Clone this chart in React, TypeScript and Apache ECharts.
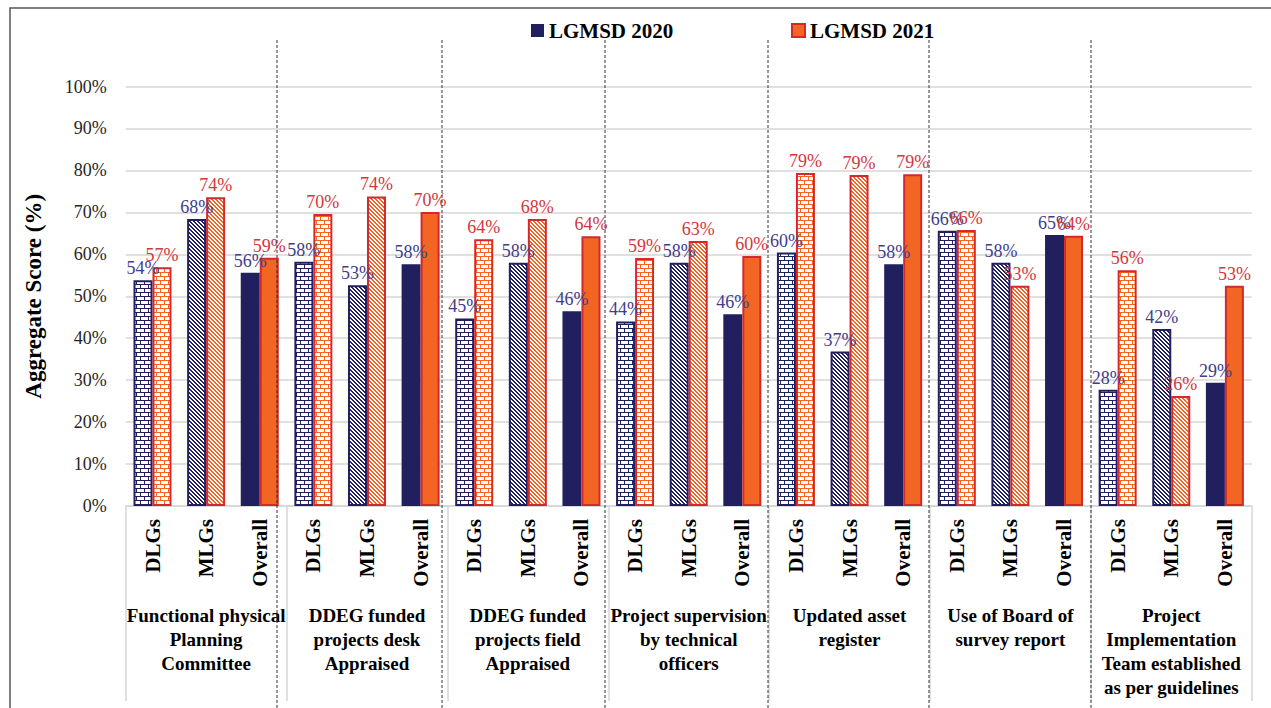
import React, { useEffect, useRef } from "react";
import * as echarts from "echarts";

const groups = [
  "Functional physical\nPlanning\nCommittee",
  "DDEG funded\nprojects desk\nAppraised",
  "DDEG funded\nprojects field\nAppraised",
  "Project supervision\nby technical\nofficers",
  "Updated asset\nregister",
  "Use of Board of\nsurvey report",
  "Project\nImplementation\nTeam established\nas per guidelines",
];
const subCategories = ["DLGs", "MLGs", "Overall"];
const lgmsd2020 = [
  53.8, 68.4, 55.6, 58.2, 52.6, 57.6, 44.7, 58.0, 46.4, 44.0, 58.0, 45.7,
  60.4, 36.8, 57.6, 65.6, 58.0, 64.6, 27.7, 42.2, 29.4,
];
const lgmsd2021 = [
  56.9, 73.6, 59.2, 69.6, 73.8, 70.1, 63.6, 68.4, 64.3, 59.1, 63.2, 59.6,
  79.4, 78.9, 79.1, 65.8, 52.5, 64.4, 56.2, 26.2, 52.5,
];
const seriesNames = ["LGMSD 2020", "LGMSD 2021"];

const FONT = "'Liberation Serif', 'DejaVu Serif', serif";
const NAVY = "#221f5e";
const ORANGE = "#f26522";
const RED = "#d22a2c";
const NAVY_LABEL = "#3f3d8c";
const RED_LABEL = "#d3363b";

function makePattern(kind: "brick" | "stripe", fg: string, bg: string) {
  const w = kind === "brick" ? 8 : 4;
  const h = kind === "brick" ? 8 : 4;
  const c = document.createElement("canvas");
  c.width = w;
  c.height = h;
  const ctx = c.getContext("2d")!;
  ctx.fillStyle = bg;
  ctx.fillRect(0, 0, w, h);
  ctx.fillStyle = fg;
  for (let y = 0; y < h; y++) {
    for (let x = 0; x < w; x++) {
      let on = false;
      if (kind === "brick") {
        if (y % 4 === 0) on = true;
        else if (y < 4 && x === 0) on = true;
        else if (y >= 4 && x === 4) on = true;
      } else {
        on = (((x - y) % 4) + 4) % 4 < 2;
      }
      if (on) ctx.fillRect(x, y, 1, 1);
    }
  }
  return { image: c, repeat: "repeat", imageWidth: w, imageHeight: h } as any;
}

export default function App() {
  const ref = useRef<HTMLDivElement>(null);
  useEffect(() => {
    if (!ref.current) return;
    const chart = echarts.init(ref.current, null, { renderer: "svg" });
    const navyBrick = makePattern("brick", NAVY, "#ffffff");
    const navyStripe = makePattern("stripe", NAVY, "#ffffff");
    const orangeBrick = makePattern("brick", ORANGE, "#ffffff");
    const orangeStripe = makePattern("stripe", ORANGE, "#ffffff");

    const categories: string[] = [];
    groups.forEach(() => subCategories.forEach((s) => categories.push(s)));

    const data2020 = lgmsd2020.map((v, i) => {
      const k = i % 3;
      return {
        value: v,
        itemStyle:
          k === 0
            ? { color: navyBrick, borderColor: NAVY, borderWidth: 2 }
            : k === 1
            ? { color: navyStripe, borderColor: NAVY, borderWidth: 2 }
            : { color: NAVY, borderColor: NAVY, borderWidth: 0 },
      };
    });
    const data2021 = lgmsd2021.map((v, i) => {
      const k = i % 3;
      return {
        value: v,
        itemStyle:
          k === 0
            ? { color: orangeBrick, borderColor: RED, borderWidth: 2 }
            : k === 1
            ? { color: orangeStripe, borderColor: RED, borderWidth: 2 }
            : { color: ORANGE, borderColor: RED, borderWidth: 2 },
      };
    });

    const dashX = [277, 442, 605, 768, 929, 1091];

    const legendCommon = {
      top: 15,
      itemWidth: 13,
      itemHeight: 13,
      icon: "rect",
      selectedMode: false,
      textStyle: { fontFamily: FONT, fontSize: 21, fontWeight: "bold", color: "#000" },
    };

    const labelCommon = {
      show: true,
      position: "top",
      distance: 3,
      formatter: (p: any) => Math.round(p.value) + "%",
      fontFamily: FONT,
      fontSize: 18,
    };

    chart.setOption({
      animation: false,
      backgroundColor: "#ffffff",
      legend: [
        {
          ...legendCommon,
          left: 526,
          data: [{ name: seriesNames[0], itemStyle: { color: NAVY, borderWidth: 0 } }],
        },
        {
          ...legendCommon,
          left: 786,
          data: [
            {
              name: seriesNames[1],
              itemStyle: { color: ORANGE, borderColor: RED, borderWidth: 2 },
            },
          ],
        },
      ],
      grid: { left: 125.7, right: 19.3, top: 86.5, bottom: 202, containLabel: false },
      yAxis: {
        type: "value",
        min: 0,
        max: 100,
        interval: 10,
        name: "Aggregate Score (%)",
        nameLocation: "middle",
        nameGap: 81,
        nameRotate: 90,
        nameTextStyle: { fontFamily: FONT, fontSize: 23, fontWeight: "bold", color: "#000" },
        axisLine: { show: false },
        axisTick: { show: false },
        axisLabel: {
          formatter: "{value}%",
          fontFamily: FONT,
          fontSize: 18,
          color: "#262626",
          margin: 19,
        },
        splitLine: { lineStyle: { color: "#d6d6d6", width: 1.5 } },
      },
      xAxis: [
        {
          type: "category",
          data: categories,
          position: "bottom",
          axisLine: { show: true, lineStyle: { color: "#d6d6d6", width: 1.5 } },
          axisTick: { show: false },
          axisLabel: {
            interval: 0,
            rotate: 90,
            margin: 13,
            fontFamily: FONT,
            fontSize: 21,
            fontWeight: "bold",
            color: "#000",
          },
        },
        {
          type: "category",
          data: groups,
          position: "bottom",
          axisLine: { show: false },
          axisTick: {
            show: true,
            interval: 0,
            length: 195,
            lineStyle: { color: "#d6d6d6", width: 1.5 },
          },
          axisLabel: {
            interval: 0,
            margin: 97,
            lineHeight: 24,
            fontFamily: FONT,
            fontSize: 19,
            fontWeight: "bold",
            color: "#000",
          },
        },
      ],
      series: [
        {
          name: seriesNames[0],
          type: "bar",
          xAxisIndex: 0,
          barWidth: 19,
          barGap: "0%",
          itemStyle: { color: NAVY },
          data: data2020,
          label: { ...labelCommon, color: NAVY_LABEL },
        },
        {
          name: seriesNames[1],
          type: "bar",
          xAxisIndex: 0,
          barWidth: 19,
          barGap: "0%",
          itemStyle: { color: ORANGE, borderColor: RED },
          data: data2021,
          label: { ...labelCommon, color: RED_LABEL },
        },
      ],
      graphic: [
        {
          type: "rect",
          silent: true,
          z: 100,
          shape: { x: 10, y: 8, width: 1400, height: 900 },
          style: { fill: "none", stroke: "#555", lineWidth: 1.5 },
        },
        ...dashX.map((x) => ({
          type: "line",
          silent: true,
          z: 100,
          shape: { x1: x, y1: 40, x2: x, y2: 708 },
          style: { stroke: "#333", lineWidth: 1, lineDash: [3, 2] },
        })),
      ],
    });
    return () => chart.dispose();
  }, []);
  return (
    <div
      ref={ref}
      style={{ position: "absolute", left: 0, top: 0, width: 1271, height: 708 }}
    />
  );
}
